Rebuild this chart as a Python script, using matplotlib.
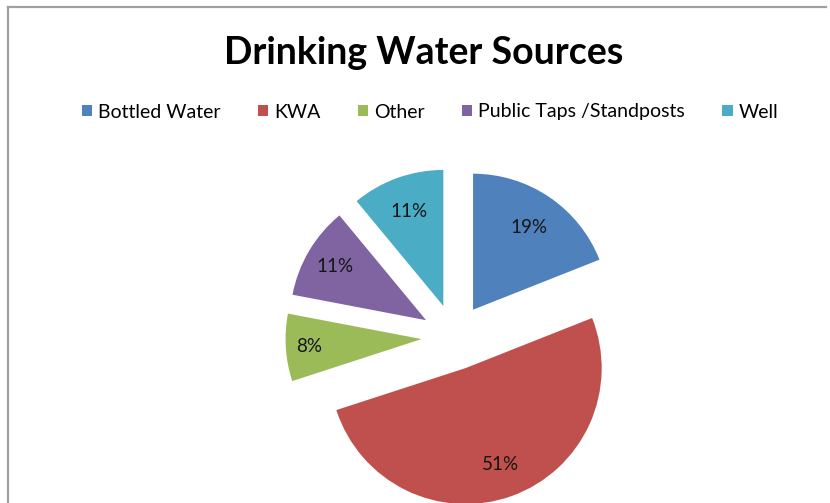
import matplotlib
matplotlib.use("Agg")
import matplotlib.pyplot as plt
from matplotlib.patches import Patch
from matplotlib.lines import Line2D
import numpy as np

categories = ["Bottled Water", "KWA", "Other", "Public Taps /Standposts", "Well"]
values = [19, 51, 8, 11, 11]
pct_labels = ["19%", "51%", "8%", "11%", "11%"]
colors = ["#4F81BD", "#C0504D", "#9BBB59", "#8064A2", "#4BACC6"]

W, H = 830, 503
fig = plt.figure(figsize=(W / 100, H / 100), dpi=100)
fig.patch.set_facecolor("white")

# border
fig.add_artist(Line2D([8 / W, 826 / W], [1 - 7 / H, 1 - 7 / H], color="#a0a0a0", lw=1.6))
fig.add_artist(Line2D([8 / W, 8 / W], [1 - 7 / H, 0], color="#a0a0a0", lw=1.6))

ax = fig.add_axes([0, 0, 1, 1])
ax.set_xlim(0, W)
ax.set_ylim(0, H)
ax.set_aspect("equal")
ax.axis("off")

radius = 136
center = (454.5, H - 337)
explode = [33] * len(values)
label_dist = [0.73, 0.75, 0.83, 0.78, 0.74]

wedges, _ = ax.pie(values, colors=colors, startangle=90, counterclock=False,
                   radius=radius, center=center, explode=explode,
                   wedgeprops=dict(linewidth=0), frame=True)
ax.set_xlim(0, W)
ax.set_ylim(0, H)
ax.axis("off")

for w, lab, d in zip(wedges, pct_labels, label_dist):
    th = np.deg2rad((w.theta1 + w.theta2) / 2)
    cx, cy = w.center
    ax.text(cx + d * radius * np.cos(th), cy + d * radius * np.sin(th), lab,
            ha="center", va="center", fontsize=13.5, color="#151515",
            family=["Lato", "DejaVu Sans"])

fig.text(424 / W, 1 - 53 / H, "Drinking Water Sources", ha="center", va="center",
         fontsize=27, fontweight="bold", family=["Lato", "DejaVu Sans"], color="black")

handles = [Patch(facecolor=c, edgecolor="none") for c in colors]
fig.legend(handles, categories, loc="center", bbox_to_anchor=(430 / W, 1 - 112 / H),
           ncol=5, frameon=False, prop={"family": "Lato", "size": 14},
           handlelength=0.55, handleheight=0.55, handletextpad=0.3, columnspacing=1.9)

fig.savefig("out.png", dpi=100)
